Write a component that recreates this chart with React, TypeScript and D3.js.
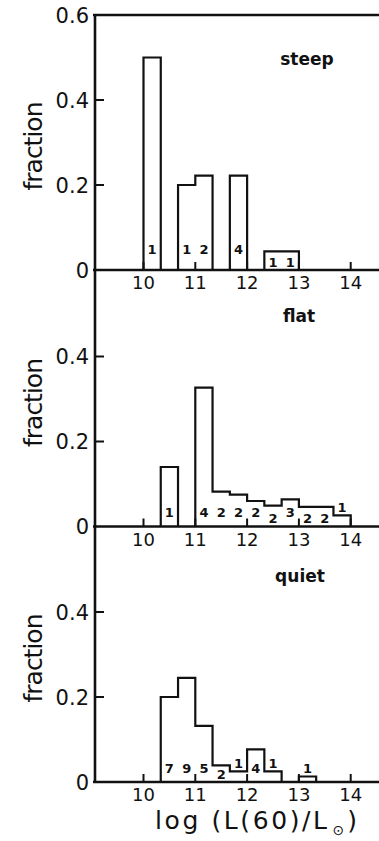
import React from "react";
import * as d3 from "d3";

// Histogram bins: lower edges in log(L60/Lsun), each one third of a dex wide
const binLow = [10.0, 10.333, 10.667, 11.0, 11.333, 11.667, 12.0, 12.333, 12.667, 13.0, 13.333, 13.667];
const binWidth = 1 / 3;

const xTicks = [10, 11, 12, 13, 14];
const yTicks = [0, 0.2, 0.4];
const yTickLabels = ["0", "0.2", "0.4"];

const panelNames = ["steep", "flat", "quiet"];

const steepFraction = [0.5, 0, 0.2, 0.222, 0, 0.222, 0, 0.044, 0.044, 0, 0, 0];
const steepCounts = ["1", "", "1", "2", "", "4", "", "1", "1", "", "", ""];

const flatFraction = [0, 0.14, 0, 0.327, 0.082, 0.075, 0.06, 0.049, 0.064, 0.046, 0.046, 0.026];
const flatCounts = ["", "1", "", "4", "2", "2", "2", "2", "3", "2", "2", "1"];

const quietFraction = [0, 0.2, 0.245, 0.132, 0.039, 0.025, 0.077, 0.025, 0, 0.013, 0, 0];
const quietCounts = ["", "7", "9", "5", "2", "1", "4", "1", "", "1", "", ""];

const panelFractions = [steepFraction, flatFraction, quietFraction];
const panelCounts = [steepCounts, flatCounts, quietCounts];

const W = 379;
const H = 841;
const AXIS_X = 95;
const FONT = "'DejaVu Sans', 'Liberation Sans', sans-serif";
const INK = "#111";

const panelBase = [270, 526.5, 782];
const panelSpan = 255;
const labelLift = [16, 10, 9];
const titleAt = [{ x: 307, y: 65 }, { x: 299, y: 322 }, { x: 300, y: 582 }];

const x = d3.scaleLinear().domain([10, 14]).range([143.5, 350.7]);

function runs(values: number[]) {
  const out: number[][] = [];
  let cur: number[] = [];
  values.forEach((v, i) => {
    if (v > 0) cur.push(i);
    else if (cur.length) {
      out.push(cur);
      cur = [];
    }
  });
  if (cur.length) out.push(cur);
  return out;
}

function Panel({ k }: { k: number }) {
  const base = panelBase[k];
  const y = d3.scaleLinear().domain([0, 0.6]).range([base, base - panelSpan]);
  const vals = panelFractions[k];
  const counts = panelCounts[k];

  const line = d3
    .line<[number, number]>()
    .x((d) => x(d[0]))
    .y((d) => y(d[1]))
    .curve(d3.curveStepAfter);

  const paths = runs(vals).map((idx) => {
    const pts: [number, number][] = [[binLow[idx[0]], 0]];
    idx.forEach((i) => pts.push([binLow[i], vals[i]]));
    const last = idx[idx.length - 1];
    pts.push([binLow[last] + binWidth, vals[last]]);
    pts.push([binLow[last] + binWidth, 0]);
    return line(pts) as string;
  });

  return (
    <g>
      {paths.map((p, i) => (
        <path key={i} d={p} fill="none" stroke={INK} strokeWidth={2.2} strokeLinejoin="miter" />
      ))}
      {/* x axis line */}
      <line x1={93} x2={W} y1={base} y2={base} stroke={INK} strokeWidth={2.6} />
      {xTicks.map((t) => (
        <g key={t}>
          <line x1={x(t)} x2={x(t)} y1={base} y2={base - 8} stroke={INK} strokeWidth={2} />
          <text
            x={x(t)}
            y={base + 19}
            textAnchor="middle"
            fontFamily={FONT}
            fontSize={18}
            fill={INK}
          >
            {t}
          </text>
        </g>
      ))}
      {yTicks.map((t, i) => (
        <g key={t}>
          {t > 0 && <line x1={AXIS_X} x2={AXIS_X + 9} y1={y(t)} y2={y(t)} stroke={INK} strokeWidth={2} />}
          <text
            x={89}
            y={y(t)}
            dy="0.36em"
            textAnchor="end"
            fontFamily={FONT}
            fontSize={21}
            fill={INK}
          >
            {yTickLabels[i]}
          </text>
        </g>
      ))}
      <text
        transform={`translate(42, ${base - 124}) rotate(-90)`}
        textAnchor="middle"
        fontFamily={FONT}
        fontSize={25}
        textLength={89}
        lengthAdjust="spacing"
        fill={INK}
      >
        fraction
      </text>
      <text
        x={titleAt[k].x}
        y={titleAt[k].y}
        textAnchor="middle"
        fontFamily={FONT}
        fontWeight="bold"
        fontSize={17}
        fill={INK}
      >
        {panelNames[k]}
      </text>
      {counts.map((c, i) => {
        if (!c) return null;
        const barH = base - y(vals[i]);
        let by: number;
        if (barH < 12) by = base - barH - 3;
        else if (barH < 24) by = base - 3.5;
        else by = base - labelLift[k];
        return (
          <text
            key={i}
            x={x(binLow[i] + binWidth / 2)}
            y={by}
            textAnchor="middle"
            fontFamily={FONT}
            fontWeight="bold"
            fontSize={13}
            fill={INK}
          >
            {c}
          </text>
        );
      })}
    </g>
  );
}

export default function App() {
  const topY = panelBase[0] - panelSpan;
  return (
    <svg width={W} height={H} style={{ position: "absolute", left: 0, top: 0, background: "#fff" }}>
      <rect width={W} height={H} fill="#fff" />
      {/* frame: top edge and shared y axis */}
      <line x1={93} x2={W} y1={topY} y2={topY} stroke={INK} strokeWidth={2.6} />
      <text x={89} y={topY} dy="0.36em" textAnchor="end" fontFamily={FONT} fontSize={21} fill={INK}>
        0.6
      </text>
      <line x1={AXIS_X} x2={AXIS_X} y1={topY - 1} y2={panelBase[2] + 1} stroke={INK} strokeWidth={2.6} />
      {panelNames.map((_, k) => (
        <Panel key={k} k={k} />
      ))}
      <text
        x={155}
        y={829}
        fontFamily={FONT}
        fontSize={25}
        fill={INK}
      >
        <tspan textLength={172} lengthAdjust="spacing">log (L(60)/L</tspan>
        <tspan fontSize={14} dx={3} dy={6}>⊙</tspan>
        <tspan dx={3} dy={-6}>)</tspan>
      </text>
    </svg>
  );
}
